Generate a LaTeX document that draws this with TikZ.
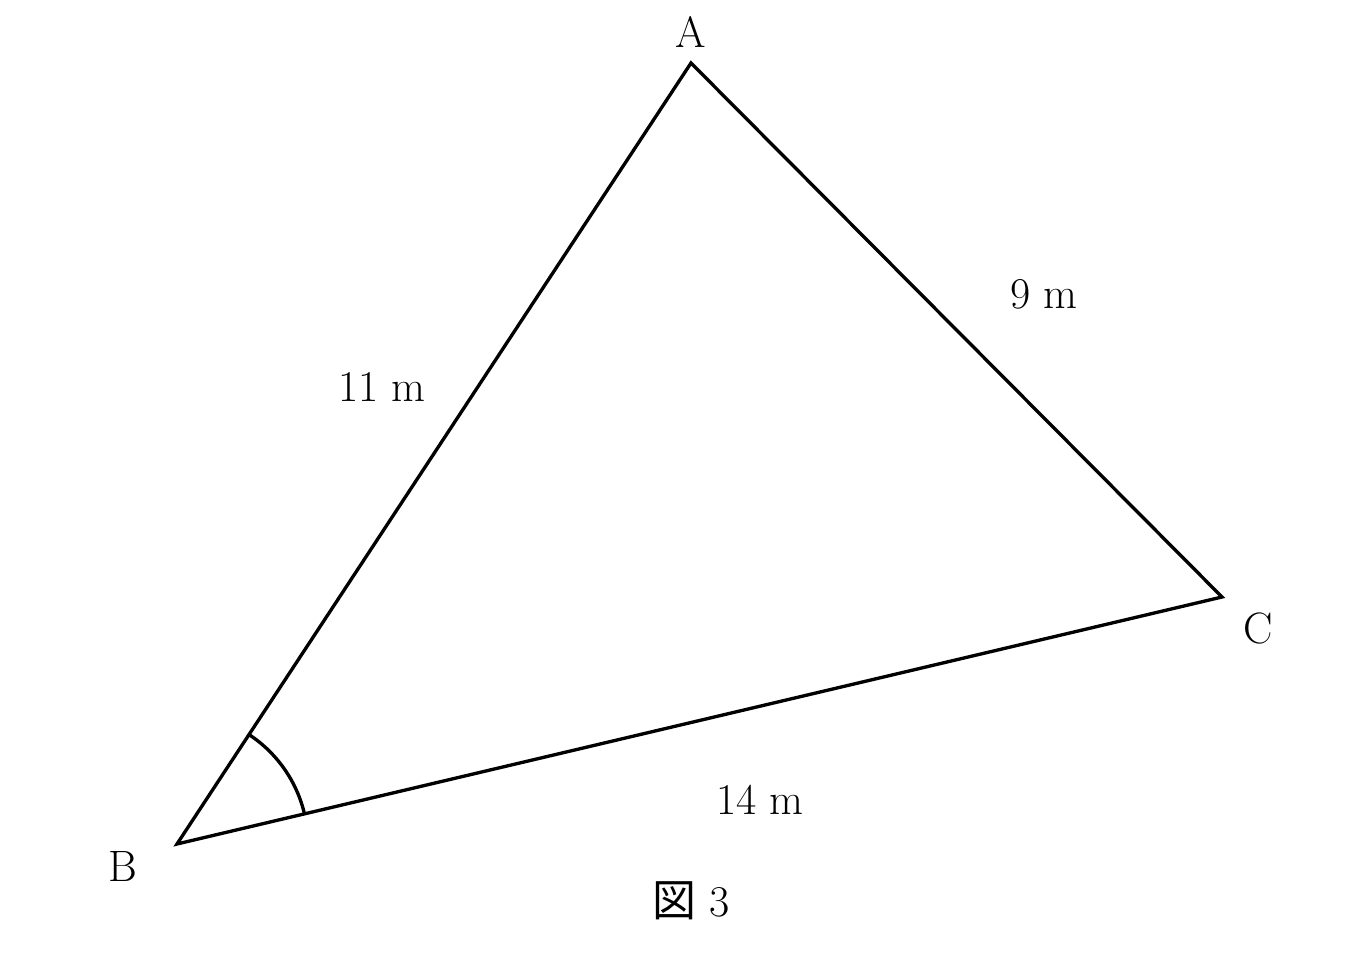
\documentclass[tikz,border=0pt]{standalone}
\usepackage{fontspec}
\usepackage{tikz}
\usetikzlibrary{angles}
\newfontfamily\cjk{Noto Sans CJK JP}

\tikzset{
    side/.style={line width=1.9pt, line join=miter},
    lbl/.style={font=\fontsize{25}{29}\selectfont, inner sep=0pt}
}

\begin{document}
\begin{tikzpicture}
    \useasboundingbox (0,0) rectangle (26.96,19.36);

    % Vertices
    \coordinate (A) at (13.82,18.10);
    \coordinate (B) at (3.54,2.48);
    \coordinate (C) at (24.44,7.42);

    % Triangle
    \draw[side] (A) -- (B) -- (C) -- cycle;

    % Angle at B
    \pic[draw, line width=1.9pt, angle radius=2.62cm] {angle = C--B--A};

    % Vertex labels
    \node[lbl] (labA) at (13.82,18.72) {A};
    \node[lbl] (labB) at (2.46,2.04) {B};
    \node[lbl] (labC) at (25.16,6.80) {C};

    % Side lengths
    \node[lbl] (sideAB) at (7.64,11.62) {11 m};
    \node[lbl] (sideAC) at (20.88,13.48) {9 m};
    \node[lbl] (sideBC) at (15.20,3.36) {14 m};

    % Caption
    \node[lbl] (fig) at (13.82,1.34) {{\cjk 図}~3};
\end{tikzpicture}
\end{document}
